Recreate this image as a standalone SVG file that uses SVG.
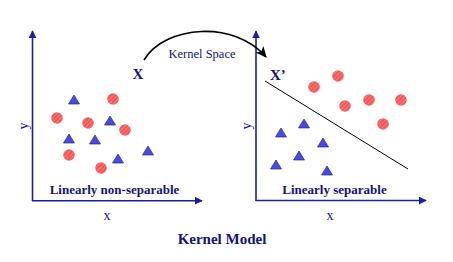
<svg xmlns="http://www.w3.org/2000/svg" xmlns:xlink="http://www.w3.org/1999/xlink" width="453" height="262" viewBox="0 0 453 262">
<style>
.ax{stroke:#1e1e96;stroke-width:1.6;fill:none}
.lbl{font-family:"Liberation Serif","Times New Roman",serif;fill:#13137a}
.b{font-weight:bold}
.dot{fill:url(#hatch)}
.tri{fill:#4a4ae0;stroke:#26268c;stroke-width:0.7}
</style>
<defs>
<pattern id="hatch" patternUnits="userSpaceOnUse" width="3" height="3" patternTransform="rotate(45)">
<rect width="3" height="3" fill="#f25656"/>
<rect width="1" height="3" fill="#f78080"/>
</pattern>
<marker id="axh" viewBox="0 0 10 10" refX="9" refY="5" markerWidth="5" markerHeight="5" orient="auto" markerUnits="strokeWidth">
<path d="M0,0 L10,5 L0,10 Z" fill="#1e1e96"/>
</marker>
<marker id="arh" viewBox="0 0 10 10" refX="9" refY="5" markerWidth="7" markerHeight="7" orient="auto" markerUnits="strokeWidth">
<path d="M0,0.5 L10,5 L0,9.5 L2.5,5 Z" fill="#000"/>
</marker>
<path id="t" d="M0,-5 L5.5,4 L-5.5,4 Z"/>
</defs>
<rect width="453" height="262" fill="#fff"/>

<g id="left-plot">
<path class="ax" d="M32.5,201 V31" marker-end="url(#axh)"/>
<path class="ax" d="M32,200.7 H202" marker-end="url(#axh)"/>
<text class="lbl" x="24" y="126" font-size="14" text-anchor="middle" transform="rotate(-90 24 126)" dy="4">y</text>
<text class="lbl" x="107" y="220" font-size="14" text-anchor="middle">x</text>
<text class="lbl b" x="114.5" y="194" font-size="13" text-anchor="middle">Linearly non-separable</text>
<text class="lbl b" x="138" y="79" font-size="15" text-anchor="middle">X</text>
<g class="dots">
<circle class="dot" cx="113" cy="99" r="5.8"/>
<circle class="dot" cx="57" cy="118" r="5.8"/>
<circle class="dot" cx="88" cy="123" r="5.8"/>
<circle class="dot" cx="125" cy="130" r="5.8"/>
<circle class="dot" cx="69" cy="155" r="5.8"/>
<circle class="dot" cx="101" cy="168" r="5.8"/>
</g>
<g class="tris">
<use xlink:href="#t" class="tri" x="74" y="100"/>
<use xlink:href="#t" class="tri" x="110" y="121"/>
<use xlink:href="#t" class="tri" x="69" y="139"/>
<use xlink:href="#t" class="tri" x="95" y="140"/>
<use xlink:href="#t" class="tri" x="148" y="151"/>
<use xlink:href="#t" class="tri" x="118" y="159"/>
</g>
</g>

<g id="right-plot">
<path class="ax" d="M256,201 V31" marker-end="url(#axh)"/>
<path class="ax" d="M255.5,200.5 H426" marker-end="url(#axh)"/>
<text class="lbl" x="247" y="126" font-size="14" text-anchor="middle" transform="rotate(-90 247 126)" dy="4">y</text>
<text class="lbl" x="330" y="220" font-size="14" text-anchor="middle">x</text>
<text class="lbl b" x="334.5" y="194" font-size="13" text-anchor="middle">Linearly separable</text>
<text class="lbl b" x="270" y="80" font-size="15">X’</text>
<line x1="265" y1="81" x2="408" y2="169" stroke="#000" stroke-width="1"/>
<g class="dots">
<circle class="dot" cx="314" cy="87" r="5.8"/>
<circle class="dot" cx="338" cy="76" r="5.8"/>
<circle class="dot" cx="345" cy="106" r="5.8"/>
<circle class="dot" cx="369" cy="100" r="5.8"/>
<circle class="dot" cx="401" cy="100" r="5.8"/>
<circle class="dot" cx="383" cy="124" r="5.8"/>
</g>
<g class="tris">
<use xlink:href="#t" class="tri" x="304" y="124"/>
<use xlink:href="#t" class="tri" x="281" y="133"/>
<use xlink:href="#t" class="tri" x="323" y="143"/>
<use xlink:href="#t" class="tri" x="299" y="156"/>
<use xlink:href="#t" class="tri" x="276" y="165"/>
<use xlink:href="#t" class="tri" x="327" y="171"/>
</g>
</g>

<g id="connectors">
<path d="M144,60 C165,25 235,20 266,57" fill="none" stroke="#000" stroke-width="1.6" marker-end="url(#arh)"/>
<text class="lbl" x="202" y="58" font-size="12.5" text-anchor="middle">Kernel Space</text>
</g>

<g id="title">
<text class="lbl b" x="222" y="244" font-size="15" text-anchor="middle">Kernel Model</text>
</g>
</svg>
